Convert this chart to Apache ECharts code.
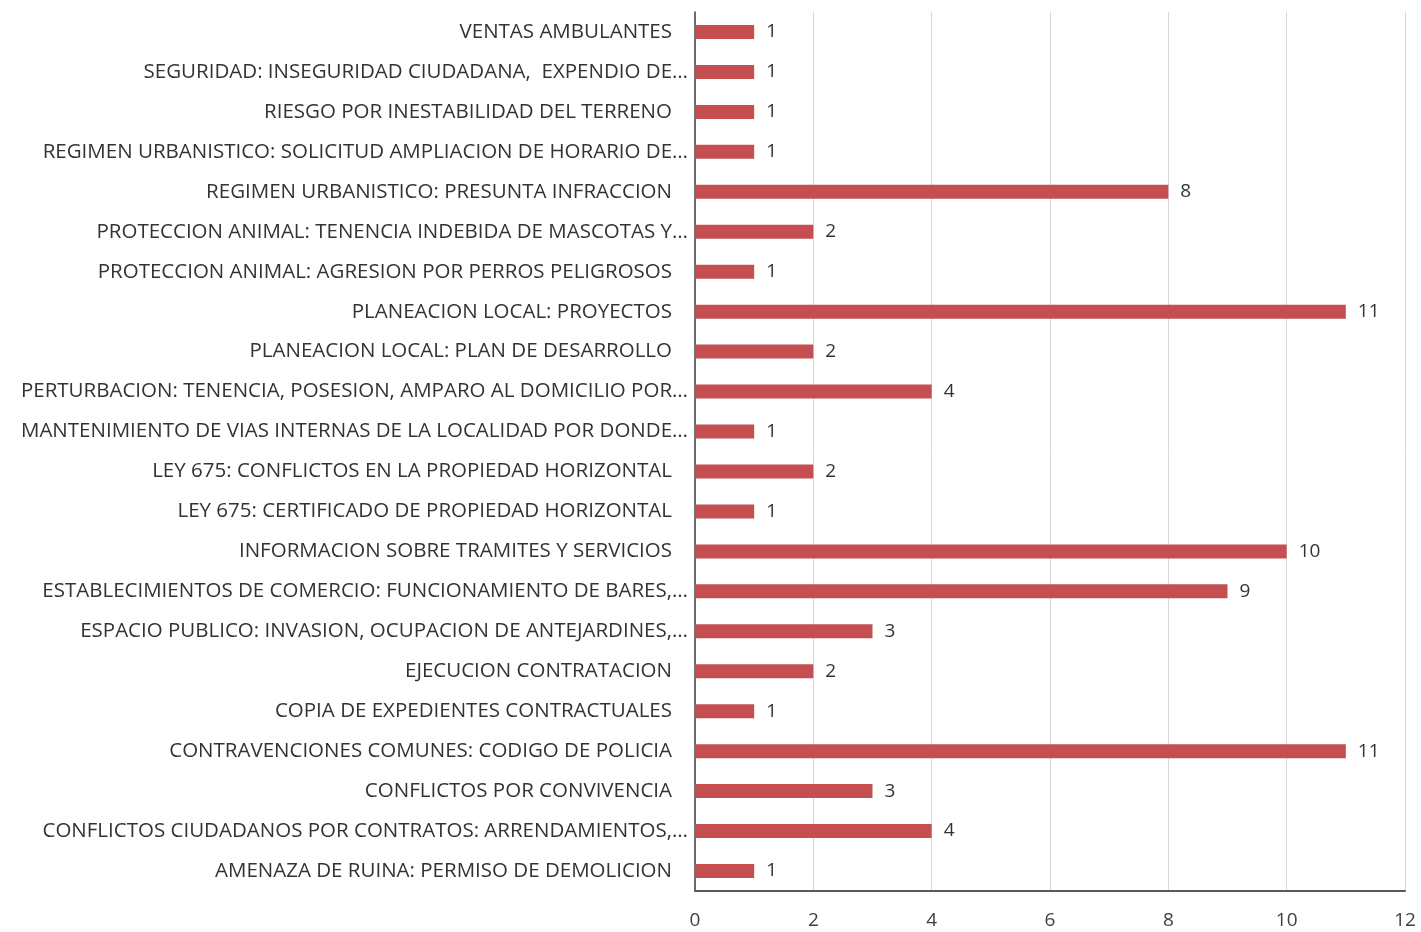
<!DOCTYPE html>
<html>
<head>
<meta charset="utf-8">
<script src="https://cdn.jsdelivr.net/npm/echarts@6/dist/echarts.min.js"></script>
<style>
  html, body { margin: 0; padding: 0; background: #fff; }
  #chart { width: 1421px; height: 932px; }
</style>
</head>
<body>
<div id="chart"></div>
<script>
// categories, bottom to top
var categories = [
  'AMENAZA DE RUINA: PERMISO DE DEMOLICION',
  'CONFLICTOS CIUDADANOS POR CONTRATOS: ARRENDAMIENTOS,…',
  'CONFLICTOS POR CONVIVENCIA',
  'CONTRAVENCIONES COMUNES: CODIGO DE POLICIA',
  'COPIA DE EXPEDIENTES CONTRACTUALES',
  'EJECUCION CONTRATACION',
  'ESPACIO PUBLICO: INVASION, OCUPACION DE ANTEJARDINES,…',
  'ESTABLECIMIENTOS DE COMERCIO: FUNCIONAMIENTO DE BARES,…',
  'INFORMACION SOBRE TRAMITES Y SERVICIOS',
  'LEY 675: CERTIFICADO DE PROPIEDAD HORIZONTAL',
  'LEY 675: CONFLICTOS EN LA PROPIEDAD HORIZONTAL',
  'MANTENIMIENTO DE VIAS INTERNAS DE LA LOCALIDAD POR DONDE…',
  'PERTURBACION: TENENCIA, POSESION, AMPARO AL DOMICILIO POR…',
  'PLANEACION LOCAL: PLAN DE DESARROLLO',
  'PLANEACION LOCAL: PROYECTOS',
  'PROTECCION ANIMAL: AGRESION POR PERROS PELIGROSOS',
  'PROTECCION ANIMAL: TENENCIA INDEBIDA DE MASCOTAS Y…',
  'REGIMEN URBANISTICO: PRESUNTA INFRACCION',
  'REGIMEN URBANISTICO: SOLICITUD AMPLIACION DE HORARIO DE…',
  'RIESGO POR INESTABILIDAD DEL TERRENO',
  'SEGURIDAD: INSEGURIDAD CIUDADANA,  EXPENDIO DE…',
  'VENTAS AMBULANTES'
]
var values = [1, 4, 3, 11, 1, 2, 3, 9, 10, 1, 2, 1, 4, 2, 11, 1, 2, 8, 1, 1, 1, 1]

var font = '"Open Sans", sans-serif'
var chart = echarts.init(document.getElementById('chart'))
chart.setOption({
  animation: false,
  grid: {
    left: 695,
    right: 16,
    top: 12,
    bottom: 41
  },
  xAxis: {
    type: 'value',
    min: 0,
    max: 12,
    interval: 2,
    axisLine: { show: true, lineStyle: { color: '#595959', width: 2 } },
    axisTick: { show: false },
    axisLabel: { color: '#404040', fontSize: 19, fontFamily: font, margin: 20 },
    splitLine: { lineStyle: { color: '#d9d9d9', width: 1 } }
  },
  yAxis: {
    type: 'category',
    data: categories,
    axisLine: { show: true, lineStyle: { color: '#404040', width: 1.5 } },
    axisTick: { show: false },
    axisLabel: {
      color: '#333',
      fontSize: 20.5,
      fontFamily: font,
      margin: 7,
      // truncated labels sit closer to the axis
      formatter: function(v) {
        return v.slice(-1) === '…' ? '{t|' + v + '}' : '{n|' + v + '}'
      },
      rich: {
        t: { fontSize: 20.5, fontFamily: font, color: '#333' },
        n: { fontSize: 20.5, fontFamily: font, color: '#333', padding: [0, 16, 0, 0] }
      }
    }
  },
  series: [{
    type: 'bar',
    data: values,
    barWidth: 14,
    itemStyle: { color: '#c44e50' },
    label: {
      show: true,
      position: 'right',
      distance: 12,
      color: '#333',
      fontSize: 19,
      fontFamily: font
    }
  }]
})
</script>
</body>
</html>
